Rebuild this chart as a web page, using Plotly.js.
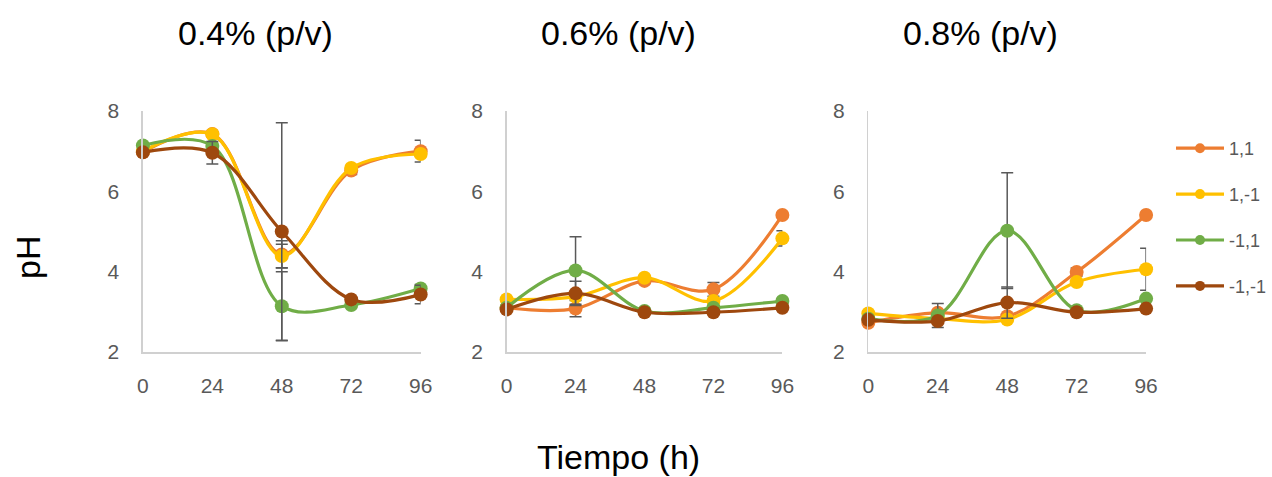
<!DOCTYPE html>
<html>
<head>
<meta charset="utf-8">
<script src="https://cdn.plot.ly/plotly-3.0.1.min.js"></script>
<style>html,body{margin:0;padding:0;background:#fff;}#chart{width:1272px;height:477px;}</style>
</head>
<body>
<div id="chart"></div>
<script>
// ---- data ----
const times = [0, 24, 48, 72, 96];
const tickVals = [0, 24, 48, 72, 96];
const yTickVals = [2, 4, 6, 8];
const seriesNames = ["1,1", "1,-1", "-1,1", "-1,-1"];
const panelTitles = ["0.4% (p/v)", "0.6% (p/v)", "0.8% (p/v)"];

// 0.4 %
const p04_a = [6.98, 7.43, 4.43, 6.52, 7.00];
const p04_b = [7.00, 7.42, 4.39, 6.58, 6.93];
const p04_c = [7.14, 7.13, 3.14, 3.17, 3.58];
const p04_d = [6.97, 6.96, 5.00, 3.31, 3.43];
const e04_a = [0, 0, 0.34, 0.10, 0.27];
const e04_b = [0, 0, 0.29, 0.05, 0.05];
const e04_c = [0, 0, 0.86, 0, 0.10];
const e04_d = [0, 0.28, 2.71, 0, 0.23];

// 0.6 %
const p06_a = [3.10, 3.08, 3.77, 3.56, 5.41];
const p06_b = [3.31, 3.38, 3.85, 3.27, 4.83];
const p06_c = [3.10, 4.03, 3.02, 3.10, 3.27];
const p06_d = [3.06, 3.46, 2.99, 2.99, 3.10];
const e06_a = [0, 0.20, 0.05, 0.17, 0];
const e06_b = [0, 0, 0.05, 0, 0.19];
const e06_c = [0, 0.84, 0, 0, 0];
const e06_d = [0, 0.30, 0, 0, 0];

// 0.8 %
const p08_a = [2.73, 2.98, 2.89, 3.99, 5.41];
const p08_b = [2.96, 2.83, 2.81, 3.74, 4.06];
const p08_c = [2.83, 2.91, 5.02, 3.04, 3.33];
const p08_d = [2.80, 2.77, 3.23, 2.99, 3.08];
const e08_a = [0, 0, 0, 0.10, 0.05];
const e08_b = [0, 0, 0, 0, 0.52];
const e08_c = [0, 0.30, 1.44, 0, 0];
const e08_d = [0, 0, 0.39, 0, 0];

const colors = ["#ED7D31", "#FFC000", "#70AD47", "#9E480E"];

// ---- layout helpers ----
const W = 1272, H = 477;
const px = v => v / W;
const py = v => 1 - v / H;

const panels = [
  {vals: [p04_a, p04_b, p04_c, p04_d], errs: [e04_a, e04_b, e04_c, e04_d], x0: 143, x1: 421, tx: 256},
  {vals: [p06_a, p06_b, p06_c, p06_d], errs: [e06_a, e06_b, e06_c, e06_d], x0: 507, x1: 783, tx: 619},
  {vals: [p08_a, p08_b, p08_c, p08_d], errs: [e08_a, e08_b, e08_c, e08_d], x0: 869, x1: 1147, tx: 981}
];

const traces = [];
const layout = {
  width: W, height: H,
  margin: {l: 0, r: 0, t: 0, b: 0},
  paper_bgcolor: "#fff", plot_bgcolor: "rgba(0,0,0,0)",
  font: {family: "Liberation Sans, Arial, sans-serif", color: "#595959"},
  showlegend: true,
  legend: {
    x: px(1172), y: py(130), xanchor: "left", yanchor: "top",
    font: {size: 18, color: "#595959"},
    itemwidth: 48, tracegroupgap: 19.5, bgcolor: "rgba(0,0,0,0)"
  },
  annotations: [],
  hovermode: false
};

panels.forEach((p, i) => {
  const n = i === 0 ? "" : String(i + 1);
  const xa = "x" + n, ya = "y" + n;
  layout["xaxis" + n] = {
    domain: [px(p.x0), px(p.x1)], anchor: ya, range: [0, 96],
    tickvals: tickVals, ticktext: tickVals.map(String),
    showgrid: false, zeroline: false, showline: true, linecolor: "#D0D0D0", linewidth: 1.5,
    ticks: "", ticklabelstandoff: 14, tickfont: {size: 21, color: "#595959"}
  };
  layout["yaxis" + n] = {
    domain: [1 - 352 / H, 1 - 111 / H], anchor: xa, range: [2, 8],
    tickvals: yTickVals,
    showgrid: false, zeroline: false, showline: true, linecolor: "#D0D0D0", linewidth: 1.5,
    ticks: "", ticklabelstandoff: 18, tickfont: {size: 21, color: "#595959"}
  };
  layout.annotations.push({
    text: panelTitles[i], xref: "paper", yref: "paper", x: px(p.tx), y: py(33),
    xanchor: "center", yanchor: "middle", showarrow: false,
    font: {size: 34, color: "#000", family: "Liberation Sans, Arial, sans-serif"}
  });
  p.vals.forEach((vals, k) => {
    traces.push({
      type: "scatter", mode: "lines+markers", x: times, y: vals,
      xaxis: xa, yaxis: ya, name: seriesNames[k], legendgroup: "g" + k,
      showlegend: false, cliponaxis: false,
      line: {color: colors[k], width: 3.2, shape: "spline", smoothing: 1},
      marker: {color: colors[k], size: 14, line: {width: 0}},
      error_y: {type: "data", array: p.errs[k], visible: true, color: "#595959", thickness: 1.5, width: 6}
    });
  });
});

// legend entries (smaller symbols, as in the reference)
seriesNames.forEach((nm, k) => {
  traces.push({
    type: "scatter", mode: "lines+markers", x: [null], y: [null],
    xaxis: "x", yaxis: "y", name: nm, legendgroup: "g" + k, showlegend: true,
    line: {color: colors[k], width: 3.2},
    marker: {color: colors[k], size: 10, line: {width: 0}}
  });
});

layout.annotations.push({
  text: "pH", xref: "paper", yref: "paper", x: px(28), y: py(257),
  xanchor: "center", yanchor: "middle", showarrow: false, textangle: -90,
  font: {size: 34, color: "#000"}
});
layout.annotations.push({
  text: "Tiempo (h)", xref: "paper", yref: "paper", x: px(619), y: py(457),
  xanchor: "center", yanchor: "middle", showarrow: false,
  font: {size: 34, color: "#000"}
});

Plotly.newPlot("chart", traces, layout, {displayModeBar: false, staticPlot: true});
</script>
</body>
</html>
